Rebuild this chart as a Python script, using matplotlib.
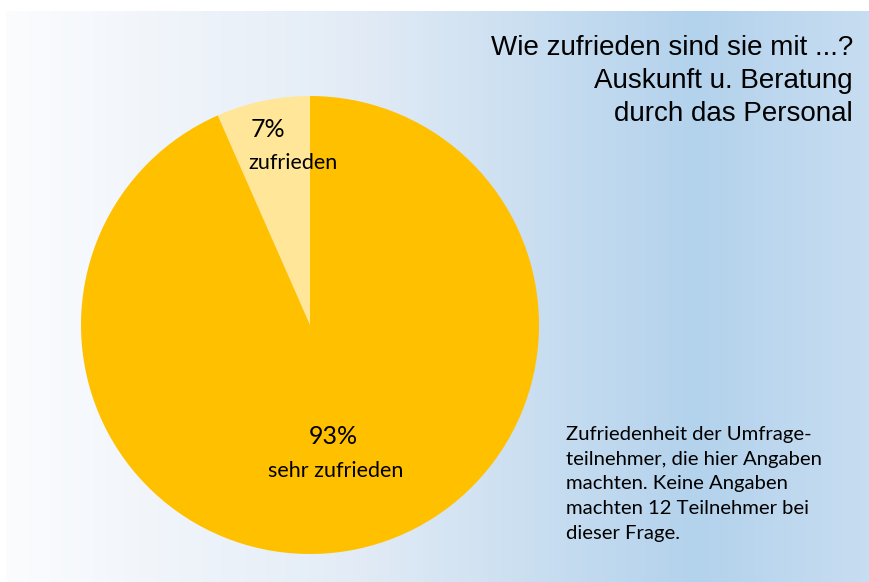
import numpy as np
import matplotlib.pyplot as plt
from matplotlib.colors import LinearSegmentedColormap

labels = ["zufrieden", "sehr zufrieden"]
shares = [6.6, 93.4]
colors = ["#FFE699", "#FFC000"]
title = "Wie zufrieden sind sie mit ...?\nAuskunft u. Beratung\ndurch das Personal"
note = ("Zufriedenheit der Umfrage-\nteilnehmer, die hier Angaben\n"
        "machten. Keine Angaben\nmachten 12 Teilnehmer bei\ndieser Frage.")

W, H = 869, 582
fig = plt.figure(figsize=(W / 100, H / 100), dpi=100)
fig.patch.set_facecolor("white")

# gradient background
bg = fig.add_axes([6 / W, 0, 1 - 6 / W, (H - 11) / H])
cmap = LinearSegmentedColormap.from_list(
    "bg", [(0, "#FBFCFE"), (0.4, "#E3ECF6"), (0.8, "#B3D2EC"), (1.0, "#C7DDF1")])
bg.imshow(np.linspace(0, 1, 256)[None, :], aspect="auto", cmap=cmap,
          extent=[0, 1, 0, 1])
bg.set_axis_off()

ax = fig.add_axes([81 / W, (H - 554) / H, 458 / W, 458 / H])
wedges, _ = ax.pie(shares, colors=colors, startangle=90, counterclock=True,
                   radius=1, wedgeprops=dict(linewidth=0))
ax.set_xlim(-1, 1)
ax.set_ylim(-1, 1)
ax.set_aspect("equal")
ax.set_axis_off()

lab_font = ["Lato", "DejaVu Sans"]
ax.text(-0.183, 0.852, f"{shares[0]:.0f}%", ha="center", va="center",
        fontsize=18, family=lab_font)
ax.text(-0.074, 0.707, labels[0], ha="center", va="center", fontsize=15.5,
        family=lab_font)
ax.text(0.10, -0.489, f"{shares[1]:.0f}%", ha="center", va="center",
        fontsize=18, family=lab_font)
ax.text(0.114, -0.638, labels[1], ha="center", va="center", fontsize=15.5,
        family=lab_font)

fig.text(853 / W, 1 - 35 / H, title, ha="right", va="top", fontsize=20,
         family=["Liberation Sans", "DejaVu Sans"], linespacing=1.36)
fig.text(566 / W, 1 - 426 / H, note, ha="left", va="top", fontsize=14.6,
         family=lab_font, linespacing=1.55)

fig.savefig("out.png", dpi=100)
